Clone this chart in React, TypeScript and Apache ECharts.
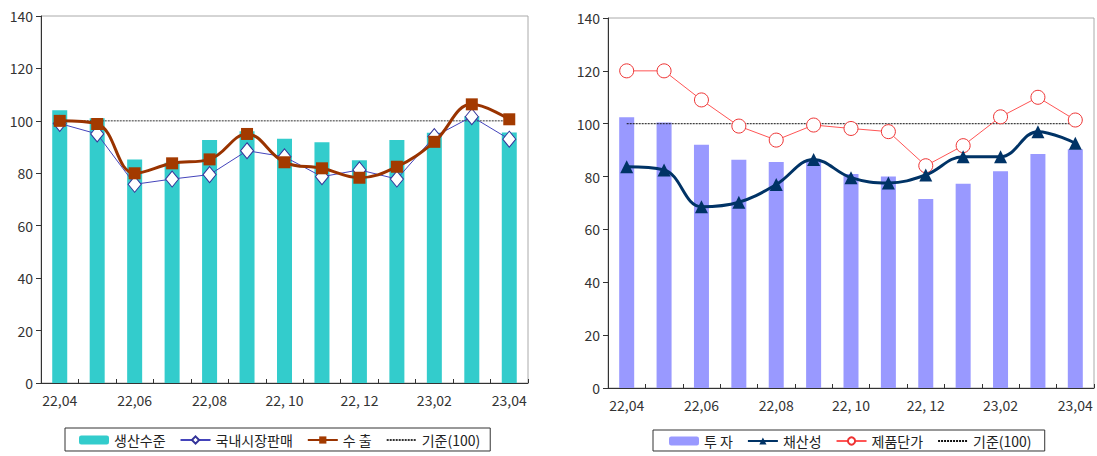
import React, { useEffect, useRef } from "react";
import * as echarts from "echarts";

const categories = ["22.04", "22.05", "22.06", "22.07", "22.08", "22.09", "22.10", "22.11", "22.12", "23.01", "23.02", "23.03", "23.04"];
const tickLabels = ["22,04", "", "22,06", "", "22,08", "", "22, 10", "", "22, 12", "", "23,02", "", "23,04"];

// Left chart
const production = [104, 101, 85.3, 84, 92.7, 96, 93.2, 91.8, 85, 92.7, 95.5, 101.8, 95.6];
const domesticSales = [99, 95, 75.8, 77.8, 79.5, 88.6, 86.3, 78.7, 81.3, 77.8, 94, 101.6, 93];
const exportsVals = [100, 98.8, 80, 83.8, 85.3, 95, 84.2, 81.9, 78.3, 82.5, 92, 106.3, 100.6];

// Right chart
const investment = [102.4, 100.5, 92, 86.4, 85.5, 86.5, 81, 80, 71.5, 77.3, 82, 88.5, 90.3];
const profitability = [83.7, 82.5, 68.6, 70.3, 77, 86.5, 79.6, 77.6, 80.6, 87.5, 87.5, 97, 92.6];
const unitPrice = [120, 120, 109, 99.1, 93.8, 99.5, 98.2, 97, 84.1, 91.7, 102.6, 110, 101.4];

const baseline = categories.map(() => 100);

const FONT = "'Noto Sans CJK KR', 'Noto Sans', sans-serif";

function xAxis(gridIndex: number) {
  return {
    type: "category",
    gridIndex,
    data: categories,
    boundaryGap: true,
    axisLine: { show: true, lineStyle: { color: "#333", width: 1 } },
    axisTick: { show: true, inside: true, length: 4, interval: 0, lineStyle: { color: "#333" } },
    axisLabel: {
      interval: 0,
      formatter: (_v: string, i: number) => tickLabels[i],
      color: "#333",
      fontSize: 14,
      fontFamily: FONT,
      margin: 10,
    },
    splitLine: { show: false },
  };
}

function yAxis(gridIndex: number) {
  return {
    type: "value",
    gridIndex,
    min: 0,
    max: 140,
    interval: 20,
    axisLine: { show: true, lineStyle: { color: "#333", width: 1 } },
    axisTick: { show: true, inside: false, length: 5, lineStyle: { color: "#333" } },
    axisLabel: { color: "#333", fontSize: 14, fontFamily: FONT, margin: 8 },
    splitLine: { show: false },
  };
}

export default function App() {
  const ref = useRef<HTMLDivElement>(null);
  useEffect(() => {
    if (!ref.current) return;
    const chart = echarts.init(ref.current, undefined, { renderer: "svg" });
    chart.setOption({
      animation: false,
      backgroundColor: "#fff",
      textStyle: { fontFamily: FONT },
      grid: [
        { left: 41, top: 16, width: 487, height: 367, show: true, borderColor: "#aaa", borderWidth: 1 },
        { left: 608, top: 18, width: 486, height: 370, show: true, borderColor: "#aaa", borderWidth: 1 },
      ],
      xAxis: [xAxis(0), xAxis(1)],
      yAxis: [yAxis(0), yAxis(1)],
      legend: [
        {
          left: 65,
          top: 428,
          data: [
            "생산수준",
            "국내시장판매",
            "수 출",
            { name: "기준(100)", itemStyle: { opacity: 0 } },
          ],
          borderColor: "#333",
          borderWidth: 1,
          padding: [5, 10, 4, 14],
          itemGap: 14,
          itemWidth: 30,
          itemHeight: 9,
          textStyle: { fontSize: 14, color: "#222", fontFamily: FONT },
        },
        {
          left: 653,
          top: 430,
          data: [
            "투 자",
            "채산성",
            "제품단가",
            { name: "기준(100) ", itemStyle: { opacity: 0 } },
          ],
          borderColor: "#333",
          borderWidth: 1,
          padding: [4, 10, 3, 16],
          itemGap: 14,
          itemWidth: 30,
          itemHeight: 9,
          textStyle: { fontSize: 14, color: "#222", fontFamily: FONT },
        },
      ],
      series: [
        {
          name: "생산수준",
          type: "bar",
          xAxisIndex: 0,
          yAxisIndex: 0,
          data: production,
          barWidth: 15,
          itemStyle: { color: "#33CCCC" },
        },
        {
          name: "기준(100)",
          type: "line",
          xAxisIndex: 0,
          yAxisIndex: 0,
          data: baseline,
          symbol: "none",
          lineStyle: { color: "#333", width: 1, type: [2, 1] },
          itemStyle: { color: "#333" },
          z: 3,
        },
        {
          name: "국내시장판매",
          type: "line",
          xAxisIndex: 0,
          yAxisIndex: 0,
          data: domesticSales,
          symbol: "diamond",
          symbolSize: [13, 16],
          lineStyle: { color: "#4444bb", width: 1 },
          itemStyle: { color: "#fff", borderColor: "#333399", borderWidth: 1 },
          z: 4,
        },
        {
          name: "수 출",
          type: "line",
          xAxisIndex: 0,
          yAxisIndex: 0,
          data: exportsVals,
          smooth: 0.4,
          symbol: "rect",
          symbolSize: 12,
          lineStyle: { color: "#993300", width: 3 },
          itemStyle: { color: "#A33A00" },
          z: 5,
        },
        {
          name: "투 자",
          type: "bar",
          xAxisIndex: 1,
          yAxisIndex: 1,
          data: investment,
          barWidth: 15,
          itemStyle: { color: "#9999FF" },
        },
        {
          name: "기준(100) ",
          type: "line",
          xAxisIndex: 1,
          yAxisIndex: 1,
          data: baseline,
          symbol: "none",
          lineStyle: { color: "#111", width: 1, type: [2, 1] },
          itemStyle: { color: "#111" },
          z: 3,
        },
        {
          name: "채산성",
          type: "line",
          xAxisIndex: 1,
          yAxisIndex: 1,
          data: profitability,
          smooth: 0.4,
          symbol: "triangle",
          symbolSize: 13,
          lineStyle: { color: "#003366", width: 3 },
          itemStyle: { color: "#003366" },
          z: 5,
        },
        {
          name: "제품단가",
          type: "line",
          xAxisIndex: 1,
          yAxisIndex: 1,
          data: unitPrice,
          symbol: "circle",
          symbolSize: 14,
          lineStyle: { color: "#FF5555", width: 1 },
          itemStyle: { color: "#fff", borderColor: "#EE3333", borderWidth: 1 },
          z: 4,
        },
      ],
    });
    return () => chart.dispose();
  }, []);
  return (
    <div
      ref={ref}
      style={{ position: "absolute", left: 0, top: 0, width: 1097, height: 456, background: "#fff" }}
    />
  );
}
